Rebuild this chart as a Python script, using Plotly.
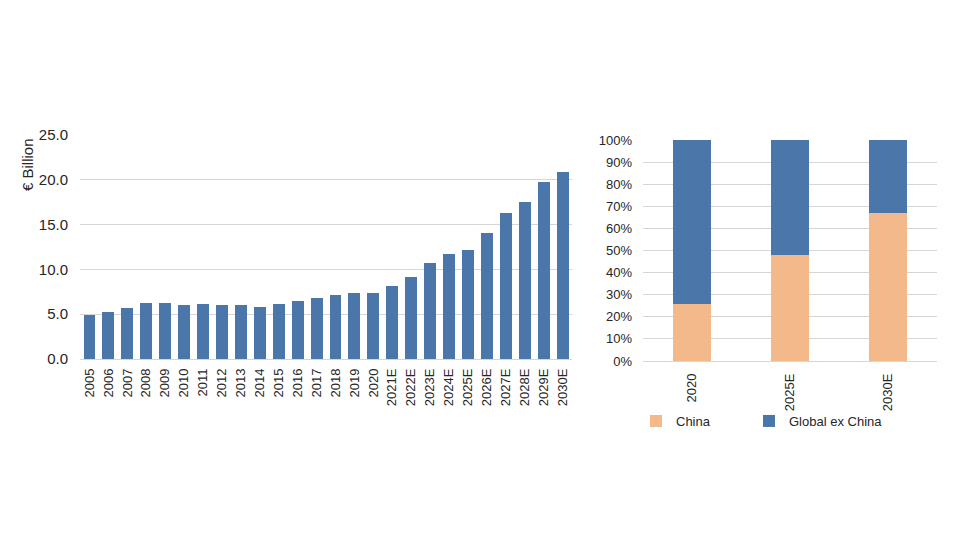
import plotly.graph_objects as go

# ---- data ----
years = ["2005", "2006", "2007", "2008", "2009", "2010", "2011", "2012", "2013",
         "2014", "2015", "2016", "2017", "2018", "2019", "2020", "2021E", "2022E",
         "2023E", "2024E", "2025E", "2026E", "2027E", "2028E", "2029E", "2030E"]
market_size = [4.9, 5.3, 5.7, 6.2, 6.2, 6.0, 6.1, 6.0, 6.0,
               5.8, 6.1, 6.5, 6.8, 7.1, 7.4, 7.4, 8.1, 9.2,
               10.7, 11.7, 12.2, 14.1, 16.3, 17.5, 19.8, 20.9]

share_cats = ["2020", "2025E", "2030E"]
china_share = [26, 48, 67]
global_ex_china_share = [74, 52, 33]

BLUE = "#4a76aa"
PEACH = "#f4b98b"
GRID = "#d6d6d6"
TXT = "#262626"
FONT = "Liberation Sans, Arial, sans-serif"

W, H = 980, 560
OFF = 8  # page body margin


def fx(px):
    return (px - OFF) / W


def fy(py):
    return (H - (py - OFF)) / H


fig = go.Figure()

fig.add_trace(go.Bar(
    x=years, y=market_size, name="Modernization market size",
    marker=dict(color=BLUE, line=dict(width=0)),
    xaxis="x", yaxis="y", legend="legend",
))

fig.add_trace(go.Bar(
    x=share_cats, y=china_share, name="China",
    marker=dict(color=PEACH, line=dict(width=0)),
    xaxis="x2", yaxis="y2", legend="legend2", width=0.39,
))
fig.add_trace(go.Bar(
    x=share_cats, y=global_ex_china_share, name="Global ex China",
    marker=dict(color=BLUE, line=dict(width=0)),
    xaxis="x2", yaxis="y2", legend="legend3", width=0.39,
))

LEG_Y = fy(421)
leg_common = dict(orientation="h", yanchor="middle", y=LEG_Y, xanchor="left",
                  font=dict(size=13, color=TXT), bgcolor="rgba(0,0,0,0)",
                  borderwidth=0, itemclick=False, itemdoubleclick=False)

fig.update_layout(
    template="none",
    width=W, height=H,
    margin=dict(l=0, r=0, t=0, b=0, autoexpand=False),
    paper_bgcolor="white", plot_bgcolor="white",
    font=dict(family=FONT, size=13, color=TXT),
    barmode="stack",
    bargap=0.37,
    xaxis=dict(
        type="category",
        domain=[fx(80), fx(572)], anchor="y", automargin=False,
        tickangle=-90, ticks="", showgrid=False,
        showline=False, ticklabelstandoff=6,
        tickfont=dict(size=13, color=TXT),
    ),
    yaxis=dict(
        domain=[fy(359), fy(135)], anchor="x", automargin=False,
        range=[0, 25], dtick=5, tickformat=".1f",
        showgrid=True, gridcolor=GRID, gridwidth=1.3,
        zeroline=True, zerolinecolor=GRID, zerolinewidth=1.3,
        ticks="", showline=False, ticklabelstandoff=11,
        tickfont=dict(size=15, color=TXT),
    ),
    xaxis2=dict(
        type="category",
        domain=[fx(643), fx(937)], anchor="y2", automargin=False,
        tickangle=-90, ticks="", showgrid=False,
        showline=False, ticklabelstandoff=9,
        tickfont=dict(size=13, color=TXT),
    ),
    yaxis2=dict(
        domain=[fy(361), fy(140)], anchor="x2", automargin=False,
        range=[0, 100], dtick=10, ticksuffix="%",
        showgrid=True, gridcolor=GRID, gridwidth=1.3,
        zeroline=True, zerolinecolor=GRID, zerolinewidth=1.3,
        ticks="", showline=False, ticklabelstandoff=10,
        tickfont=dict(size=13, color=TXT),
    ),
    legend=dict(x=fx(187 + OFF), **leg_common),
    legend2=dict(x=fx(628 + OFF), **leg_common),
    legend3=dict(x=fx(741 + OFF), **leg_common),
    annotations=[dict(
        text="€ Billion", textangle=-90,
        x=fx(27), y=fy(165), xref="paper", yref="paper",
        xanchor="center", yanchor="middle",
        showarrow=False, font=dict(size=15, color=TXT),
    )],
)

fig.write_html("out.html")
